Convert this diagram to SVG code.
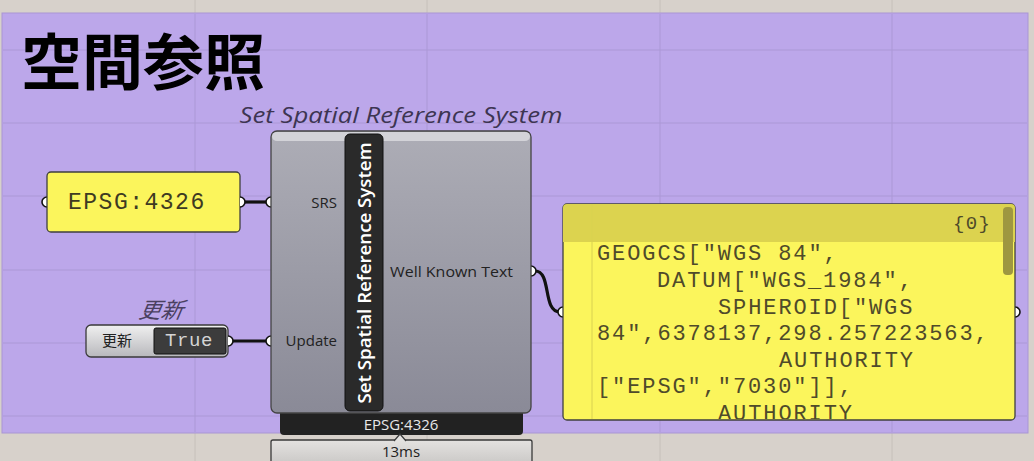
<svg xmlns="http://www.w3.org/2000/svg" width="1034" height="461" viewBox="0 0 1034 461">
<defs>
<linearGradient id="body" x1="0" y1="0" x2="0" y2="1">
<stop offset="0" stop-color="#adadb6"/>
<stop offset="1" stop-color="#8a8a97"/>
</linearGradient>
<linearGradient id="tog" x1="0" y1="0" x2="0" y2="1">
<stop offset="0" stop-color="#f0f0f0"/>
<stop offset="1" stop-color="#b8b8bc"/>
</linearGradient>
<linearGradient id="tbox" x1="0" y1="0" x2="0" y2="1">
<stop offset="0" stop-color="#e4e2e0"/>
<stop offset="1" stop-color="#c4c2c0"/>
</linearGradient>
<clipPath id="panelclip"><rect x="563" y="204" width="452" height="215" rx="4"/></clipPath>
</defs>
<style>
.grid{stroke:#ab98d6;stroke-width:1}
.gridb{stroke:#c6c0ba;stroke-width:1}
.wire{fill:none;stroke:#111;stroke-width:3.2}
.port{fill:#fff;stroke:#111;stroke-width:1.6}
.lbl{font-family:"Open Sans","DejaVu Sans",sans-serif;fill:#222;font-size:15px}
.mono{font-family:"Liberation Mono","Courier New",monospace}
.ptxt{font-size:22px;letter-spacing:1.9px;fill:#4f4a2a}
</style>
<rect x="0" y="0" width="1034" height="461" fill="#d7d1cb"/>
<g id="grid-beige">
<line class="gridb" x1="195" y1="0" x2="195" y2="461"/>
<line class="gridb" x1="427" y1="0" x2="427" y2="461"/>
<line class="gridb" x1="660" y1="0" x2="660" y2="461"/>
<line class="gridb" x1="892" y1="0" x2="892" y2="461"/>
</g>
<g id="group">
<rect x="2" y="13" width="1026" height="420" fill="#bca7ea" stroke="#a996d4" stroke-width="1"/>
<line class="grid" x1="195" y1="14" x2="195" y2="432"/>
<line class="grid" x1="427" y1="14" x2="427" y2="432"/>
<line class="grid" x1="660" y1="14" x2="660" y2="432"/>
<line class="grid" x1="892" y1="14" x2="892" y2="432"/>
<line class="grid" x1="3" y1="50" x2="1027" y2="50"/>
<line class="grid" x1="3" y1="123" x2="1027" y2="123"/>
<line class="grid" x1="3" y1="196" x2="1027" y2="196"/>
<line class="grid" x1="3" y1="270" x2="1027" y2="270"/>
<line class="grid" x1="3" y1="343" x2="1027" y2="343"/>
<line class="grid" x1="3" y1="416" x2="1027" y2="416"/>
<text x="21" y="85" font-family="Noto Sans CJK JP, sans-serif" font-weight="bold" font-size="61" fill="#000">空間参照</text>
</g>
<g id="connectors">
<path class="wire" d="M243,202 L268,202"/>
<path class="wire" d="M231,341 L268,341"/>
<path class="wire" d="M535,271 C552,271 542,312 560,312"/>
</g>
<g id="node-epsg">
<path class="port" d="M47,197 A5,5 0 0 0 47,207"/>
<rect x="47" y="172" width="193" height="60" rx="4" fill="#fbf55c" stroke="#3f3f3f" stroke-width="1.3"/>
<path class="port" d="M240,197 A5,5 0 0 1 240,207"/>
<text class="mono" x="68" y="209" font-size="23" letter-spacing="1.5" style="fill:#3e3a22">EPSG:4326</text>
</g>
<g id="node-toggle">
<text x="160" y="318" text-anchor="middle" font-family="Noto Sans CJK JP, sans-serif" font-style="italic" font-size="22" fill="#4a4060" transform="skewX(-10) translate(56,0)">更新</text>
<rect x="86" y="325" width="142" height="32" rx="5" fill="url(#tog)" stroke="#3a3a3a" stroke-width="1.3"/>
<rect x="154" y="328" width="72" height="26" rx="2" fill="#3c3c3c" stroke="#111" stroke-width="1"/>
<text x="102" y="346" font-family="Noto Sans CJK JP, sans-serif" font-size="15" fill="#222">更新</text>
<text class="mono" x="165" y="346" font-size="19" letter-spacing="0.6" style="fill:#d4d4d4">True</text>
<path class="port" d="M228,336 A5,5 0 0 1 228,346"/>
</g>
<g id="node-srs">
<text x="401" y="123" text-anchor="middle" font-family="Open Sans, sans-serif" font-style="italic" font-size="22" fill="#3d3552" textLength="323" lengthAdjust="spacingAndGlyphs">Set Spatial Reference System</text>
<path class="port" d="M271,197 A5,5 0 0 0 271,207"/>
<path class="port" d="M271,336 A5,5 0 0 0 271,346"/>
<path class="port" d="M531,266 A5,5 0 0 1 531,276"/>
<rect x="280" y="405" width="243" height="30" rx="4" fill="#222"/>
<rect x="271" y="131" width="260" height="282" rx="6" fill="url(#body)" stroke="#444" stroke-width="1.3"/>
<rect x="272" y="132" width="258" height="9" rx="5" fill="#d3d3d8"/>
<rect x="345" y="134" width="38" height="277" rx="5" fill="#2a2a2a" stroke="#111" stroke-width="1"/>
<text transform="translate(371,273) rotate(-90)" text-anchor="middle" font-family="Open Sans, sans-serif" font-weight="600" font-size="18" fill="#fff" textLength="261" lengthAdjust="spacingAndGlyphs">Set Spatial Reference System</text>
<text class="lbl" x="337" y="208" text-anchor="end">SRS</text>
<text class="lbl" x="337" y="346" text-anchor="end">Update</text>
<text class="lbl" x="390" y="277" textLength="123" lengthAdjust="spacingAndGlyphs">Well Known Text</text>
<text x="401" y="430" text-anchor="middle" font-family="Open Sans, sans-serif" font-size="15" fill="#e8e8e8">EPSG:4326</text>
<rect x="271" y="440" width="261" height="30" rx="2" fill="url(#tbox)" stroke="#3a3a3a" stroke-width="1.3"/>
<path d="M394,441 L400,434 L406,441" fill="#e4e2e0" stroke="#3a3a3a" stroke-width="1.2"/>
<text x="401" y="457" text-anchor="middle" font-family="Open Sans, sans-serif" font-size="15" fill="#222">13ms</text>
</g>
<g id="node-panel">
<path class="port" d="M563,307 A5,5 0 0 0 563,317"/>
<path class="port" d="M1015,307 A5,5 0 0 1 1015,317"/>
<rect x="563" y="204" width="452" height="216" rx="4" fill="#fbf55c" stroke="#3f3f3f" stroke-width="1.3"/>
<g clip-path="url(#panelclip)">
<rect x="563" y="204" width="452" height="38" fill="#dcd34f"/>
<line x1="592" y1="204" x2="592" y2="420" stroke="#d9d250" stroke-width="1"/>
<rect x="1003" y="207" width="10" height="68" rx="4" fill="#9e9740"/>
<text class="mono" x="953" y="229" font-size="19" letter-spacing="1.3" style="fill:#4f4a2a">{0}</text>
<text class="mono ptxt" x="597" y="260">GEOGCS["WGS 84",</text>
<text class="mono ptxt" x="657" y="287">DATUM["WGS_1984",</text>
<text class="mono ptxt" x="718" y="314">SPHEROID["WGS</text>
<text class="mono ptxt" x="597" y="340">84",6378137,298.257223563,</text>
<text class="mono ptxt" x="779" y="367">AUTHORITY</text>
<text class="mono ptxt" x="597" y="393">["EPSG","7030"]],</text>
<text class="mono ptxt" x="718" y="420">AUTHORITY</text>
</g>
</g>
</svg>
